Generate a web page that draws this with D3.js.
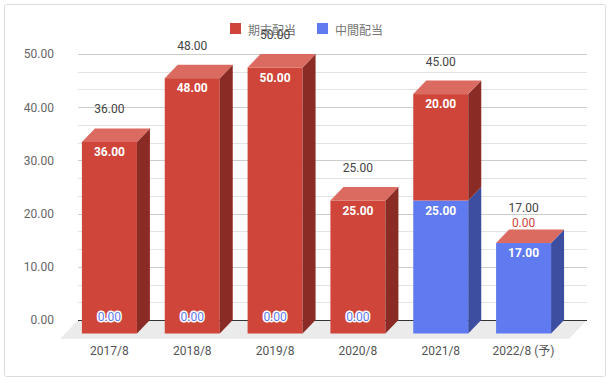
<!DOCTYPE html>
<html>
<head>
<meta charset="utf-8">
<script src="https://cdn.jsdelivr.net/npm/d3@7"></script>
<style>
  html, body { margin: 0; padding: 0; background: #fff; }
  svg { display: block; font-family: Roboto, "Noto Sans CJK JP", sans-serif; }
</style>
</head>
<body>
<svg id="chart" width="611" height="383"></svg>
<script>
// ---- data ----
const categories = ["2017/8", "2018/8", "2019/8", "2020/8", "2021/8", "2022/8 (予)"];
const seriesNames = ["期末配当", "中間配当"];
const kimatsu = [36, 48, 50, 25, 20, 0];   // 期末配当 (top, red)
const chukan  = [0, 0, 0, 0, 25, 17];      // 中間配当 (bottom, blue)
const yTicks  = [0, 10, 20, 30, 40, 50];

// ---- styles ----
const colors = {
  red:  { front: "#cf4539", top: "#db6b61", side: "#8a2b26" },
  blue: { front: "#5f7bef", top: "#8498f3", side: "#3d4ea1" }
};
const DX = 13, DY = 13.5;  // 3D depth offset

const svg = d3.select("#chart");
const fmt = d3.format(".2f");

// border
svg.append("rect").attr("x", 4.5).attr("y", 4.5).attr("width", 601).attr("height", 372)
  .attr("rx", 2).attr("fill", "#fff").attr("stroke", "#dcdcdc");

const y = d3.scaleLinear().domain([0, 50]).range([320, 54]);
const x = d3.scaleBand().domain(categories).range([68, 565]).paddingInner(0.336).paddingOuter(0.168);

const gridX0 = 78, gridX1 = 587;

// minor + major gridlines
const minorTicks = d3.range(0, 50.001, 10 / 3);
svg.append("g").selectAll("line").data(minorTicks).join("line")
  .attr("x1", gridX0).attr("x2", gridX1)
  .attr("y1", d => Math.round(y(d)) + 0.5).attr("y2", d => Math.round(y(d)) + 0.5)
  .attr("stroke", "#e3e3e3");
svg.append("g").selectAll("line").data(yTicks.filter(d => d > 0)).join("line")
  .attr("x1", gridX0).attr("x2", gridX1)
  .attr("y1", d => Math.round(y(d)) + 0.5).attr("y2", d => Math.round(y(d)) + 0.5)
  .attr("stroke", "#cccccc");

// y axis labels
const yAxis = d3.axisLeft(y).tickValues(yTicks).tickFormat(fmt).tickSize(0).tickPadding(0);
const gy = svg.append("g").attr("transform", "translate(54,0)").call(yAxis);
gy.select(".domain").remove();
gy.selectAll("text").attr("font-size", 12).attr("fill", "#666").attr("font-family", "Roboto, sans-serif");

// floor
const floorDX = 18, floorDY = 19;
svg.append("path")
  .attr("d", `M${gridX0},${y(0)} L${gridX1},${y(0)} L${gridX1 - floorDX},${y(0) + floorDY} L${gridX0 - floorDX},${y(0) + floorDY} Z`)
  .attr("fill", "#ebebeb");
// zero line
svg.append("line").attr("x1", gridX0).attr("x2", gridX1)
  .attr("y1", Math.round(y(0)) + 0.5).attr("y2", Math.round(y(0)) + 0.5)
  .attr("stroke", "#333").attr("stroke-width", 1);

// stacked data
const rows = categories.map((c, i) => ({ cat: c, chukan: chukan[i], kimatsu: kimatsu[i] }));
const stack = d3.stack().keys(["chukan", "kimatsu"]);
const stacked = stack(rows);
const keyColor = { chukan: colors.blue, kimatsu: colors.red };

const fy = v => y(v) + DY;   // front-plane y
const bw = x.bandwidth();

const barsG = svg.append("g");
categories.forEach((c, i) => {
  const g = barsG.append("g");
  const xl = x(c) , xr = xl + bw;
  stacked.forEach(s => {
    const d = s[i];
    const col = keyColor[s.key];
    const y0 = fy(d[0]), y1 = fy(d[1]);
    if (d[1] > d[0]) {
      g.append("rect").attr("x", xl).attr("y", y1).attr("width", bw).attr("height", y0 - y1)
        .attr("fill", col.front);
      g.append("path")
        .attr("d", `M${xr},${y1} L${xr + DX},${y1 - DY} L${xr + DX},${y0 - DY} L${xr},${y0} Z`)
        .attr("fill", col.side);
    }
  });
  // top face in colour of top series
  const top = stacked[stacked.length - 1][i][1];
  const ty = fy(top);
  g.append("path")
    .attr("d", `M${xl},${ty} L${xl + DX},${ty - DY} L${xr + DX},${ty - DY} L${xr},${ty} Z`)
    .attr("fill", keyColor[stacked[stacked.length - 1].key].top);
});

// legend
const legend = svg.append("g");
const legendItems = [
  { name: seriesNames[0], color: colors.red.front, x: 230 },
  { name: seriesNames[1], color: colors.blue.front, x: 317 }
];
legendItems.forEach(it => {
  legend.append("rect").attr("x", it.x).attr("y", 23).attr("width", 11).attr("height", 11).attr("fill", it.color);
  legend.append("text").attr("x", it.x + 18).attr("y", 29).attr("dominant-baseline", "central")
    .attr("font-size", 12).attr("fill", "#757575")
    .attr("font-family", "'Noto Sans CJK JP', sans-serif").text(it.name);
});

// category labels
svg.append("g").selectAll("text").data(categories).join("text")
  .attr("x", d => x(d) + bw / 2).attr("y", 351)
  .attr("text-anchor", "middle").attr("dominant-baseline", "central")
  .attr("font-size", 12).attr("fill", "#555")
  .attr("font-family", "Roboto, 'Noto Sans CJK JP', sans-serif")
  .text(d => d);

// data labels
const lab = svg.append("g").attr("font-size", 12).attr("text-anchor", "middle");
categories.forEach((c, i) => {
  const cx = x(c) + bw / 2;
  // segment labels
  stacked.forEach(s => {
    const d = s[i];
    const v = d[1] - d[0];
    const col = keyColor[s.key];
    if (v > 0) {
      lab.append("text").attr("x", cx).attr("y", fy(d[1]) + 10).attr("dominant-baseline", "central")
        .attr("fill", "#fff").attr("font-weight", "bold").text(fmt(v));
    } else if (s.key === "chukan") {
      lab.append("text").attr("x", cx).attr("y", fy(0) - 17).attr("dominant-baseline", "central")
        .attr("fill", col.front).attr("stroke", "#fff").attr("stroke-width", 3)
        .attr("paint-order", "stroke").text(fmt(v));
    } else {
      lab.append("text").attr("x", cx).attr("y", y(d[1]) - 7).attr("dominant-baseline", "central")
        .attr("fill", colors.red.front).attr("stroke", "#fff").attr("stroke-width", 3)
        .attr("paint-order", "stroke").text(fmt(v));
    }
  });
  // totals
  const total = kimatsu[i] + chukan[i];
  lab.append("text").attr("x", cx).attr("y", y(total) - (kimatsu[i] === 0 ? 22 : 19))
    .attr("dominant-baseline", "central").attr("fill", "#444").text(fmt(total));
});
</script>
</body>
</html>
